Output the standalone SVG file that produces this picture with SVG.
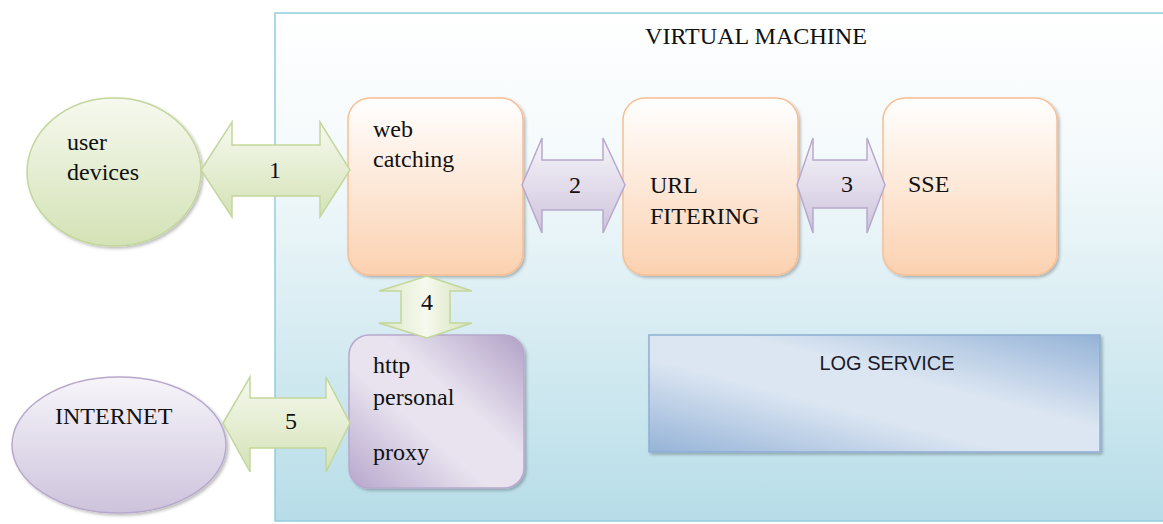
<svg xmlns="http://www.w3.org/2000/svg" width="1163" height="524" viewBox="0 0 1163 524">
<defs>
<linearGradient id="vmG" x1="0" y1="0" x2="0" y2="1"><stop offset="0" stop-color="#ffffff"/><stop offset="0.3" stop-color="#f3f9fb"/><stop offset="1" stop-color="#b7dde8"/></linearGradient>
<linearGradient id="greenG" x1="0" y1="0" x2="0" y2="1"><stop offset="0" stop-color="#f6f9ef"/><stop offset="1" stop-color="#d4e2b6"/></linearGradient>
<linearGradient id="greenV" x1="0" y1="0" x2="1" y2="0"><stop offset="0" stop-color="#dbe7c4"/><stop offset="0.5" stop-color="#f6f9ef"/><stop offset="1" stop-color="#d4e2b6"/></linearGradient>
<linearGradient id="purpG" x1="0" y1="0" x2="0" y2="1"><stop offset="0" stop-color="#f7f5fa"/><stop offset="1" stop-color="#cdc3dc"/></linearGradient>
<linearGradient id="orangeG" x1="0" y1="0" x2="0" y2="1"><stop offset="0" stop-color="#ffffff"/><stop offset="1" stop-color="#fbd1b0"/></linearGradient>
<linearGradient id="httpG" x1="0" y1="1" x2="1" y2="0"><stop offset="0" stop-color="#b7a6cc"/><stop offset="0.4" stop-color="#e8e3ef"/><stop offset="0.6" stop-color="#e8e3ef"/><stop offset="1" stop-color="#b2a1c7"/></linearGradient>
<linearGradient id="logG" x1="0" y1="1" x2="1" y2="0"><stop offset="0" stop-color="#95b3d7"/><stop offset="0.4" stop-color="#dce6f2"/><stop offset="0.6" stop-color="#dce6f2"/><stop offset="1" stop-color="#95b3d7"/></linearGradient>
<filter id="sh" x="-10%" y="-10%" width="125%" height="125%"><feDropShadow dx="2" dy="2" stdDeviation="1.5" flood-color="#000" flood-opacity="0.25"/></filter>
</defs>
<style>
.serif{font-family:'Liberation Serif','DejaVu Serif','Noto Serif',serif;font-size:24px;fill:#111}
.num{font-family:'Liberation Serif','DejaVu Serif','Noto Serif',serif;font-size:24px;fill:#111;text-anchor:middle}
.box{fill:url(#orangeG);stroke:#f9be92;stroke-width:1.5}
.garrow{fill:url(#greenG);stroke:#c3d69b;stroke-width:1.5}
.parrow{fill:url(#purpG);stroke:#b8a9cc;stroke-width:1.5}
</style>
<rect width="1163" height="524" fill="#ffffff"/>
<g id="vm">
<rect x="275" y="13" width="895" height="508" fill="url(#vmG)" stroke="#93cddd" stroke-width="1.5"/>
<text x="756" y="44" class="serif" text-anchor="middle" textLength="222" lengthAdjust="spacingAndGlyphs" font-size="22.5">VIRTUAL MACHINE</text>
</g>
<g id="user-devices">
<ellipse cx="114" cy="172" rx="87" ry="74" fill="url(#greenG)" stroke="#c3d69b" stroke-width="1.5" filter="url(#sh)"/>
<text class="serif" x="67" y="150">user</text>
<text class="serif" x="67" y="180">devices</text>
</g>
<g id="internet">
<ellipse cx="119" cy="445" rx="107" ry="68" fill="url(#purpG)" stroke="#b8a9cc" stroke-width="1.5" filter="url(#sh)"/>
<text class="serif" x="55" y="424">INTERNET</text>
</g>
<g id="web-catching">
<rect class="box" x="348" y="98" width="175" height="177" rx="22" filter="url(#sh)"/>
<text class="serif" x="373" y="137">web</text>
<text class="serif" x="373" y="167">catching</text>
</g>
<g id="url-filtering">
<rect class="box" x="623" y="98" width="175" height="177" rx="22" filter="url(#sh)"/>
<text class="serif" x="650" y="193">URL</text>
<text class="serif" x="650" y="224">FITERING</text>
</g>
<g id="sse">
<rect class="box" x="883" y="98" width="174" height="177" rx="22" filter="url(#sh)"/>
<text class="serif" x="908" y="192">SSE</text>
</g>
<g id="http-proxy">
<rect x="349" y="335" width="175" height="153" rx="20" fill="url(#httpG)" stroke="#b8a9cc" stroke-width="1.5" filter="url(#sh)"/>
<text class="serif" x="373" y="373">http</text>
<text class="serif" x="373" y="405">personal</text>
<text class="serif" x="373" y="460">proxy</text>
</g>
<g id="log-service">
<rect x="649" y="335" width="451" height="117" fill="url(#logG)" stroke="#8eaed4" stroke-width="1.5" filter="url(#sh)"/>
<text x="887" y="370" text-anchor="middle" font-family="'Liberation Sans',Arial,sans-serif" font-size="20" fill="#1a1a2a">LOG SERVICE</text>
</g>
<g id="connectors">
<polygon class="garrow" points="201,170 232,122 232,145 320,145 320,122 350,170 320,217 320,196 232,196 232,217"/>
<text class="num" x="275" y="178">1</text>
<polygon class="parrow" points="522,185 542,138 542,160 603,160 603,138 625,185 603,233 603,210 542,210 542,233"/>
<text class="num" x="575" y="193">2</text>
<polygon class="parrow" points="797,185 813,138 813,160 867,160 867,138 885,185 867,233 867,208 813,208 813,233"/>
<text class="num" x="847" y="192">3</text>
<polygon fill="url(#greenV)" stroke="#c3d69b" stroke-width="1.5" points="427,276 472,291 450,291 450,323 472,323 427,338 379,323 401,323 401,291 379,291"/>
<text class="num" x="427" y="310">4</text>
<polygon class="garrow" points="223,423 250,377 250,398 326,398 326,377 350,423 326,472 326,448 250,448 250,472"/>
<text class="num" x="291" y="429">5</text>
</g>
</svg>
